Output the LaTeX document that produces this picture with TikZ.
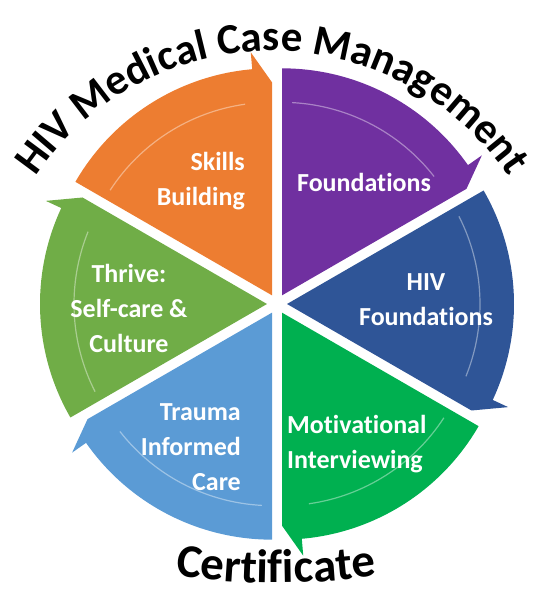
\documentclass[tikz,border=0pt]{standalone}
\usepackage{fontspec}
\setmainfont{Carlito}[Ligatures=CommonOff]
\usepackage{xcolor}
\usepackage{tikz}
\usetikzlibrary{calc, decorations.text}

\definecolor{skillorange}{RGB}{237,125,49}
\definecolor{foundpurple}{RGB}{112,48,160}
\definecolor{hivblue}{RGB}{47,85,151}
\definecolor{motivgreen}{RGB}{0,176,80}
\definecolor{traumablue}{RGB}{91,155,213}
\definecolor{thrivegreen}{RGB}{112,173,71}

\tikzstyle{seglabel} = [inner sep=0pt, text=white, font=\fontsize{26}{35}\selectfont\bfseries]
\tikzstyle{gloss}    = [white, opacity=0.4, line width=1.2pt]

\newcommand{\slicerad}{227}
% one exploded 60 degree sector, arrow head at its clockwise end
\newcommand{\pieslice}[3]{%
  \begin{scope}[shift={(c)}, shift={({(#1+#2)/2}:10)}]
    \fill[#3] (0,0) -- (#1:\slicerad) arc[start angle=#1, end angle={#2+5}, radius=\slicerad]
      -- ({#2+5}:{\slicerad+17}) -- (#2:{\slicerad-14}) -- cycle;
    \draw[gloss] ({#1-3}:{\slicerad-34}) arc[start angle={#1-3}, end angle={#2+8}, radius={\slicerad-34}];
  \end{scope}}

\begin{document}
\begin{tikzpicture}[x=1pt, y=1pt]
    \useasboundingbox (0,0) rectangle (537,592);
    \coordinate (c) at (277,288);

    % wheel
    \pieslice{150}{90}{skillorange}
    \pieslice{90}{30}{foundpurple}
    \pieslice{30}{-30}{hivblue}
    \pieslice{-30}{-90}{motivgreen}
    \pieslice{-90}{-150}{traumablue}
    \pieslice{-150}{-210}{thrivegreen}

    % labels
    \node (skills) [seglabel, anchor=north east, align=right]  at (245,440)   {Skills\\Building};
    \node (found)  [seglabel, anchor=base]                     at (364,400)   {Foundations};
    \node (hiv)    [seglabel, anchor=north, align=center]      at (426,319)   {HIV\\Foundations};
    \node (motiv)  [seglabel, anchor=north west, align=left]   at (287,177)   {Motivational\\Interviewing};
    \node (trauma) [seglabel, anchor=north east, align=right]  at (241,189)   {Trauma\\Informed\\Care};
    \node (thrive) [seglabel, anchor=north, align=center]      at (129,328)   {Thrive:\\Self-care \&\\Culture};

    % curved titles
    \coordinate (tc) at (272,256);
    \path [decorate, decoration={text along path, text align=center,
        text={|\fontsize{43}{43}\selectfont\bfseries|HIV Medical Case Management}}]
      (tc) ++(160:285) arc[start angle=160, end angle=20, radius=285];
    \coordinate (cc) at (276,689);
    \path [decorate, decoration={text along path, text align=center,
        text={|\fontsize{47}{47}\selectfont\bfseries|Certificate}}]
      (cc) ++(255:680) arc[start angle=255, end angle=285, radius=680];

  \end{tikzpicture}
\end{document}
